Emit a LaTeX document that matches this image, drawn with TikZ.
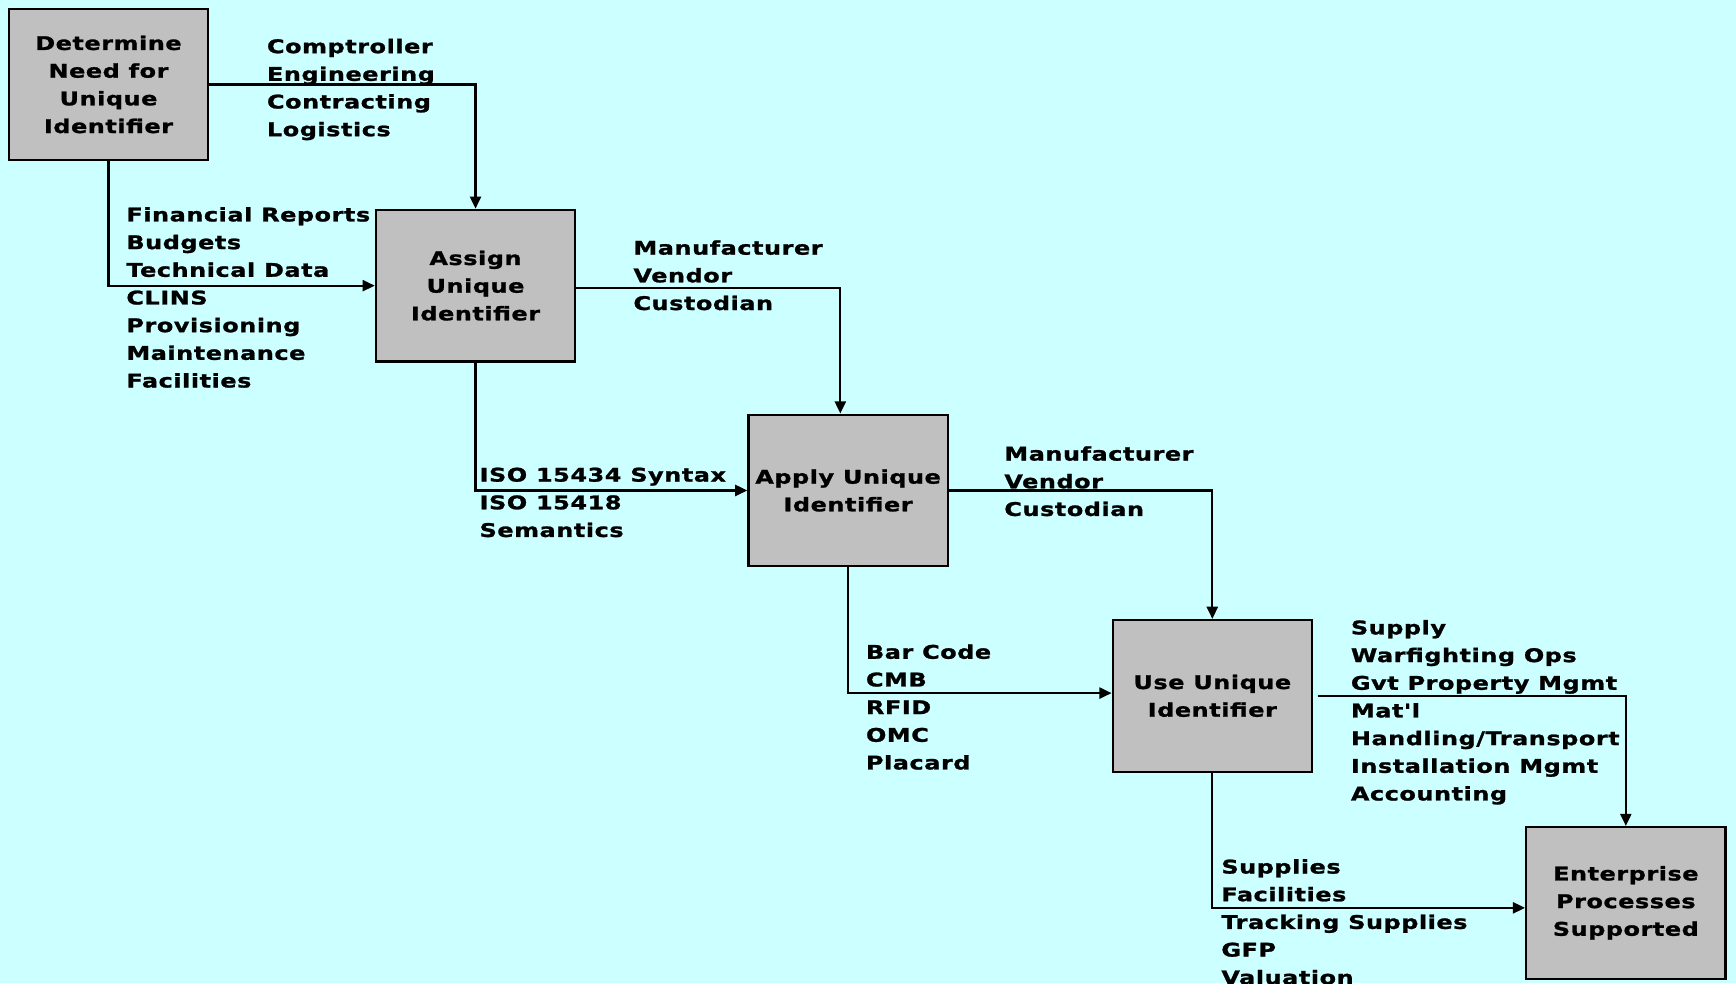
\documentclass[tikz,border=0pt]{standalone}
\usepackage{fontspec}
\newfontfamily\lblfont{DejaVu Sans Bold}[FakeStretch=1.27,LetterSpace=3,FakeBold=1.3]
\usetikzlibrary{arrows.meta}
\definecolor{bgcyan}{HTML}{CCFFFF}
\definecolor{boxgray}{HTML}{C0C0C0}
\newcommand{\lst}[1]{\begin{tabular}[t]{@{}l@{}}#1\end{tabular}}
\begin{document}
\begin{tikzpicture}[x=1pt,y=-1pt,
  proc/.style={draw=black, fill=boxgray, line width=2pt, minimum width=180pt,
    minimum height=137pt, inner sep=0pt, align=center,
    font=\lblfont\fontsize{17}{25}\selectfont},
  lab/.style={anchor=base west, inner sep=0pt,
    font=\lblfont\fontsize{17}{25}\selectfont},
  conn/.style={line width=2pt, -{Triangle[length=11pt,width=10pt]}}]
\fill[bgcyan] (0,0) rectangle (1568,888);
\useasboundingbox (0,0) rectangle (1568,888);

\node[proc] (b1) at (98,76.3) {Determine\\Need for\\Unique\\Identifier};
\node[proc] (b2) at (429.5,258) {Assign\\Unique\\Identifier};
\node[proc] (b3) at (766,443) {Apply Unique\\Identifier};
\node[proc] (b4) at (1095,628.5) {Use Unique\\Identifier};
\node[proc] (b5) at (1468.5,815.5) {Enterprise\\Processes\\Supported};

\node[lab] (l1) at (241,48) {\lst{Comptroller\\Engineering\\Contracting\\Logistics}};
\node[lab] (l2) at (114,200) {\lst{Financial Reports\\Budgets\\Technical Data\\CLINS\\Provisioning\\Maintenance\\Facilities}};
\node[lab] (l3) at (572,230) {\lst{Manufacturer\\Vendor\\Custodian}};
\node[lab] (l4) at (433,435) {\lst{ISO 15434 Syntax\\ISO 15418\\Semantics}};
\node[lab] (l5) at (907,416) {\lst{Manufacturer\\Vendor\\Custodian}};
\node[lab] (l6) at (782,595) {\lst{Bar Code\\CMB\\RFID\\OMC\\Placard}};
\node[lab] (l7) at (1220,573) {\lst{Supply\\Warfighting Ops\\Gvt Property Mgmt\\Mat'l\\Handling/Transport\\Installation Mgmt\\Accounting}};
\node[lab] (l8) at (1103,789) {\lst{Supplies\\Facilities\\Tracking Supplies\\GFP\\Valuation}};

\draw[conn] (b1.east) -| (b2.north);
\draw[conn] (b1.south) |- (b2.west);
\draw[conn] ([yshift=-2pt]b2.east) -| ([xshift=-7pt]b3.north);
\draw[conn] (b2.south) |- (b3.west);
\draw[conn] (b3.east) -| (b4.north);
\draw[conn] (b3.south) |- ([yshift=2.5pt]b4.west);
\draw[conn, shorten <=4pt] (b4.east) -| (b5.north);
\draw[conn] (b4.south) |- ([yshift=-4.5pt]b5.west);
\end{tikzpicture}
\end{document}
